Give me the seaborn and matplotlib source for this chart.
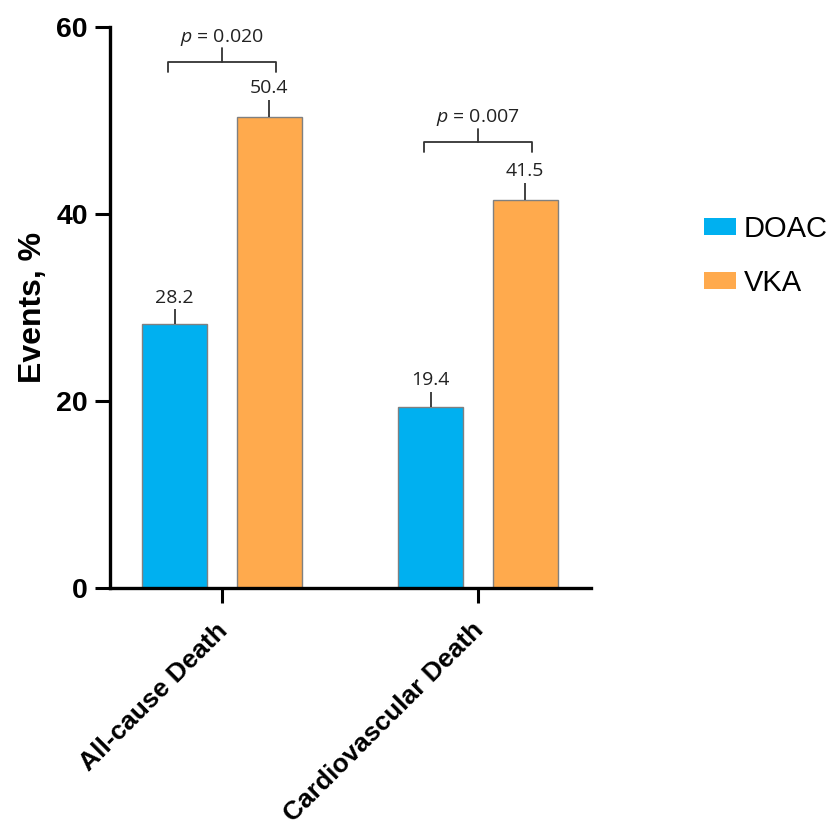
import numpy as np
import pandas as pd
import matplotlib
matplotlib.use("Agg")
import matplotlib.pyplot as plt
import matplotlib.transforms as mtransforms
import seaborn as sns

# データ
categories = ["All-cause Death", "Cardiovascular Death"]
groups = ["DOAC", "VKA"]
doac_values = [28.2, 19.4]
vka_values = [50.4, 41.5]
doac_err = [1.6, 1.6]
vka_err = [1.8, 1.8]
p_labels = ["0.020", "0.007"]
p_heights = [56.3, 47.7]
colors = {"DOAC": "#00B0F0", "VKA": "#FFAA4D"}

df = pd.DataFrame({
    "category": categories * 2,
    "group": ["DOAC"] * 2 + ["VKA"] * 2,
    "value": doac_values + vka_values,
    "err": doac_err + vka_err,
})

sns.set_style("white")
plt.rcParams["font.family"] = ["Liberation Sans", "DejaVu Sans"]
plt.rcParams["mathtext.fontset"] = "custom"
plt.rcParams["mathtext.it"] = "Open Sans:italic"
plt.rcParams["mathtext.rm"] = "Open Sans"
plt.rcParams["text.color"] = "black"
plt.rcParams["axes.labelcolor"] = "black"
plt.rcParams["xtick.color"] = "black"
plt.rcParams["ytick.color"] = "black"

fig = plt.figure(figsize=(8.29, 8.38), dpi=100)
ax = fig.add_axes([0.1327, 0.2983, 0.580, 0.6695])

sns.barplot(data=df, x="category", y="value", hue="group", order=categories,
            hue_order=groups, palette=colors, saturation=1, errorbar=None,
            width=0.74, gap=0.32, edgecolor="#808080", linewidth=1.0, ax=ax,
            legend=False)

# エラーバーとラベル（上方向のみ）
for container, g in zip(ax.containers, groups):
    sub = df[df["group"] == g].set_index("category").loc[categories]
    for bar, val, err in zip(container.patches, sub["value"], sub["err"]):
        xc = bar.get_x() + bar.get_width() / 2
        ax.errorbar(xc, val, yerr=[[0], [err]], fmt="none", ecolor="#333333",
                    elinewidth=1.3, capsize=0)
        ax.text(xc, val + err + 0.3, f"{val:.1f}", ha="center", va="bottom",
                fontsize=14, color="#222222", family=["Open Sans", "DejaVu Sans"])

# p値のブラケット
for i, (p, h) in enumerate(zip(p_labels, p_heights)):
    x0, x1 = i - 0.21, i + 0.21
    ax.plot([x0, x0, x1, x1], [h - 1.1, h, h, h - 1.1], color="#333333", lw=1.3,
            clip_on=False)
    ax.plot([i, i], [h, h + 1.4], color="#333333", lw=1.3, clip_on=False)
    ax.text(i, h + 1.5, "$p$ = " + p, ha="center", va="bottom", fontsize=14,
            color="#222222", family=["Open Sans", "DejaVu Sans"])

ax.set_ylim(0, 60)
ax.set_xlim(-0.4375, 1.441)
ax.set_yticks([0, 20, 40, 60])
ax.set_xlabel("")
ax.set_ylabel("Events, %", fontsize=23, fontweight="bold", labelpad=6)

for s in ["top", "right"]:
    ax.spines[s].set_visible(False)
for s in ["left", "bottom"]:
    ax.spines[s].set_linewidth(2.4)
    ax.spines[s].set_color("black")

ax.tick_params(axis="both", which="major", length=11, width=2.2, color="black",
               direction="out", labelsize=20.5, left=True, bottom=True)
ax.tick_params(axis="y", pad=5)
for lab in ax.get_yticklabels():
    lab.set_fontweight("bold")
ax.set_xticks(range(len(categories)))
ax.set_xticklabels(categories, rotation=45, ha="right", va="top",
                   rotation_mode="anchor", fontsize=19, fontweight="bold")
offset = mtransforms.ScaledTranslation(-0.07, -0.10, fig.dpi_scale_trans)
for lab in ax.get_xticklabels():
    lab.set_transform(lab.get_transform() + offset)

# 凡例
handles = [plt.Rectangle((0, 0), 1, 1, facecolor=colors[g], edgecolor="none") for g in groups]
fig.legend(handles, groups, loc="upper left", bbox_to_anchor=(0.818, 0.775),
           frameon=False, fontsize=21, handlelength=1.1, handleheight=0.5,
           handletextpad=0.25, labelspacing=0.9, borderpad=0.4)

plt.savefig("out.png", dpi=100)
plt.close()
